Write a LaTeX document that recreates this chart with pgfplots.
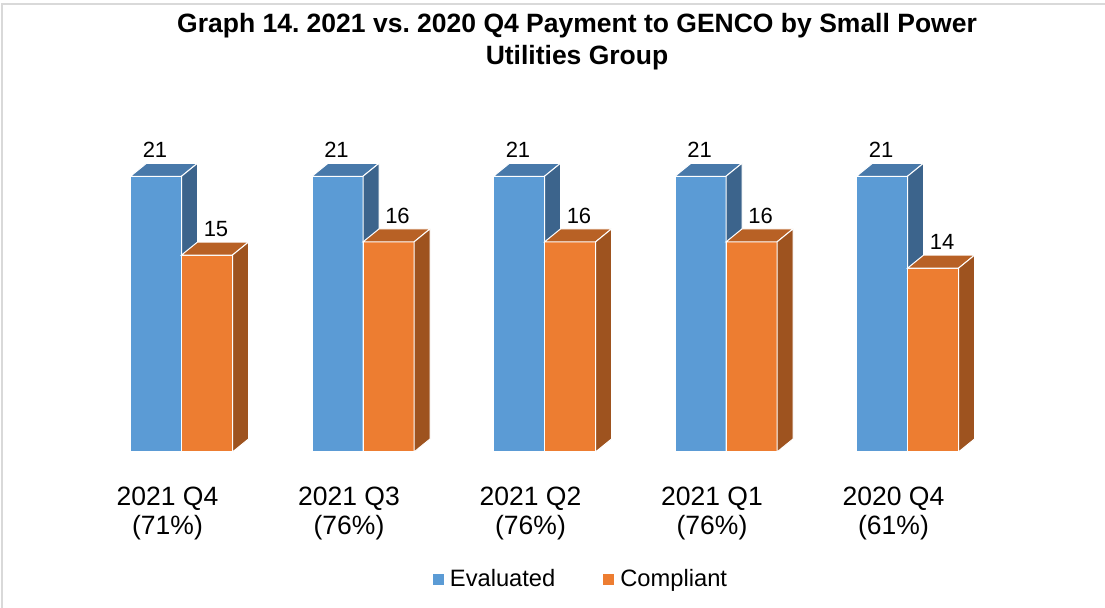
\documentclass[border=0pt]{standalone}
\usepackage{fontspec}
\setmainfont{Liberation Sans}
\usepackage{pgfplots}
\pgfplotsset{compat=1.18}
\usepackage{pgfplotstable}
\frenchspacing

\definecolor{bluefront}{RGB}{91,155,213}
\definecolor{bluetop}{RGB}{72,121,170}
\definecolor{blueside}{RGB}{60,100,140}
\definecolor{orangefront}{RGB}{237,125,49}
\definecolor{orangetop}{RGB}{184,97,37}
\definecolor{orangeside}{RGB}{158,83,31}

\pgfplotstableread{
x ev co
0 21 15
1 21 16
2 21 16
3 21 16
4 21 14
}\datatable

% top and side faces of a 3d bar: #1 bar centre, #2 value, #3 top colour, #4 side colour
\newcommand{\threedfaces}[4]{%
  \pgfmathsetmacro{\xl}{#1-0.1405}%
  \pgfmathsetmacro{\xr}{#1+0.1405}%
  \pgfmathsetmacro{\xld}{#1-0.1405+0.0882}%
  \pgfmathsetmacro{\xrd}{#1+0.1405+0.0882}%
  \pgfmathsetmacro{\vd}{#2+0.99}%
  \addplot[fill=#3, draw=white, line width=1pt, forget plot]
    coordinates {(\xl,#2) (\xld,\vd) (\xrd,\vd) (\xr,#2)} -- cycle;
  \addplot[fill=#4, draw=white, line width=1pt, forget plot]
    coordinates {(\xr,0) (\xrd,0.99) (\xrd,\vd) (\xr,#2)} -- cycle;
}

\begin{document}
\begin{tikzpicture}
\begin{axis}[
  name=ax,
  scale only axis,
  width=1105pt, height=452pt,
  xmin=-1, xmax=5.0882,
  ymin=0, ymax=34.425,
  clip=false,
  axis line style={draw=none},
  major tick length=0pt,
  ytick=\empty,
  xtick={0,1,2,3,4},
  xticklabels={2021 Q4\\(71\%), 2021 Q3\\(76\%), 2021 Q2\\(76\%), 2021 Q1\\(76\%), 2020 Q4\\(61\%)},
  xticklabel style={font=\fontsize{26.5}{29}\selectfont, align=center, anchor=north, inner sep=0pt, yshift=-35pt, xshift=-14pt},
  /pgf/number format/assume math mode=true,
  title={Graph 14. 2021 vs. 2020 Q4 Payment to GENCO by Small Power\\Utilities Group},
  title style={at={(0.5222,1)}, anchor=north, yshift=-19pt, inner sep=0pt,
    font=\bfseries\fontsize{26.5}{32}\selectfont, align=center},
  legend columns=2,
  legend style={at={(0.5267,-0.281)}, anchor=center, draw=none, fill=none,
    font=\fontsize{23.7}{28}\selectfont,
    nodes={inner xsep=5pt},
    /tikz/every even column/.append style={column sep=42pt}},
  legend image code/.code={\fill[#1] (0pt,-6pt) rectangle (12pt,6pt);},
]
% frame of the chart area
\draw[black!15, line width=2pt] (axis cs:-0.989,-11.9) -- (axis cs:-0.989,34.12) -- (axis cs:5.0882,34.12);

\addplot[ybar, bar width=0.281, bar shift=-0.1405, fill=bluefront, draw=white, line width=1pt,
  nodes near coords,
  every node near coord/.append style={font=\fontsize{22}{24}\selectfont, text=black, anchor=south, inner sep=0pt, yshift=18pt, xshift=-26.5pt}]
  table[x=x, y=ev] {\datatable};
\addlegendentry{Evaluated}
\pgfplotsforeachungrouped \i in {0,...,4}{%
  \pgfplotstablegetelem{\i}{ev}\of\datatable
  \let\val\pgfplotsretval
  \threedfaces{\i-0.1405}{\val}{bluetop}{blueside}
}

\addplot[ybar, bar width=0.281, bar shift=0.1405, fill=orangefront, draw=white, line width=1pt,
  nodes near coords,
  every node near coord/.append style={font=\fontsize{22}{24}\selectfont, text=black, anchor=south, inner sep=0pt, yshift=18pt, xshift=34.5pt}]
  table[x=x, y=co] {\datatable};
\addlegendentry{Compliant}
\pgfplotsforeachungrouped \i in {0,...,4}{%
  \pgfplotstablegetelem{\i}{co}\of\datatable
  \let\val\pgfplotsretval
  \threedfaces{\i+0.1405}{\val}{orangetop}{orangeside}
}
\end{axis}
\pgfresetboundingbox
\path (ax.south west) ++(0,-156pt) rectangle (ax.north east);
\end{tikzpicture}
\end{document}
